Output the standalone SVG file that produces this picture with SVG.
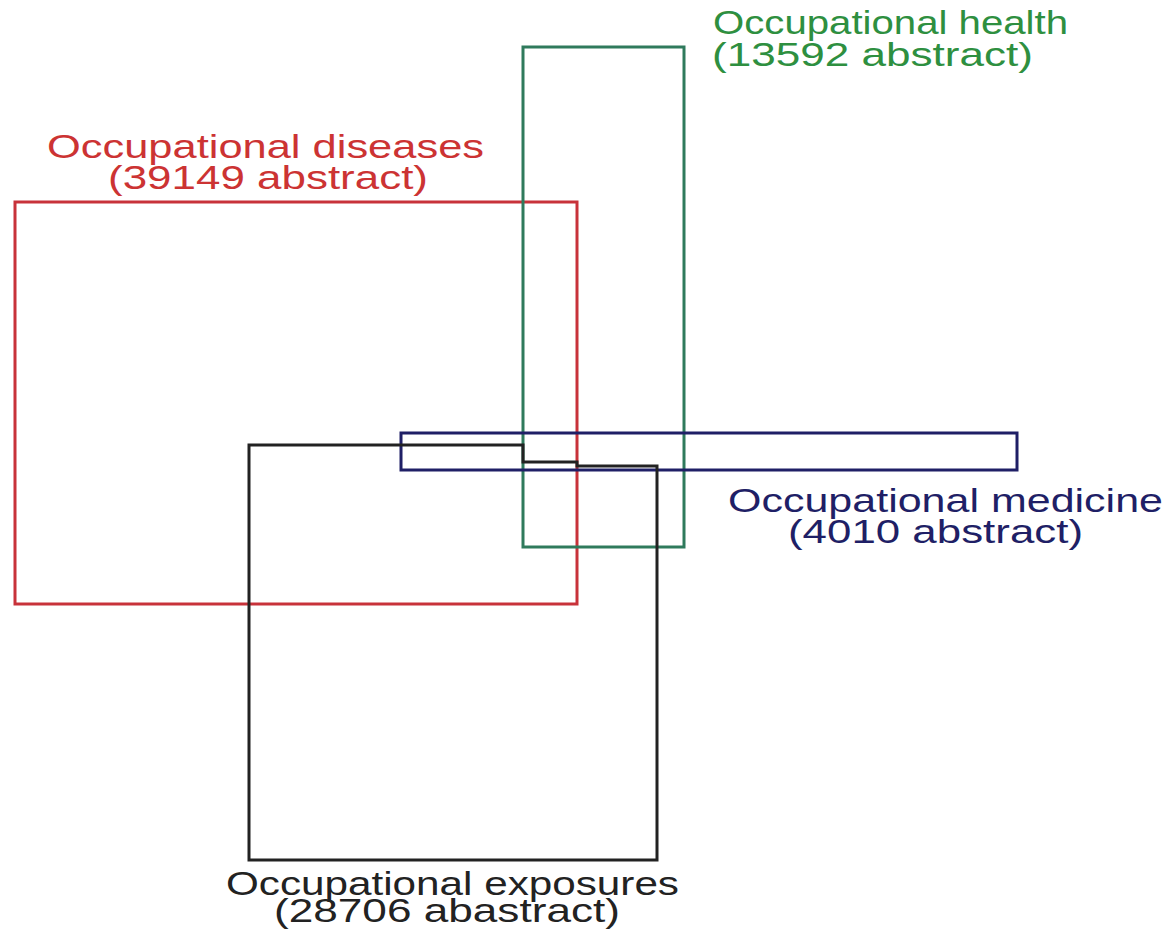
<svg xmlns="http://www.w3.org/2000/svg" width="1169" height="938" viewBox="0 0 1169 938">
<style>
text{font-family:"Liberation Sans",Arial,sans-serif;font-size:34px}
.box{fill:none;stroke-width:3}
</style>
<rect width="1169" height="938" fill="#fff"/>
<g id="diseases">
<rect class="box" x="15" y="202" width="562" height="402" stroke="#c8323a"/>
<text x="47" y="158" fill="#cc3333" textLength="437" lengthAdjust="spacingAndGlyphs">Occupational diseases</text>
<text x="108" y="189" fill="#cc3333" textLength="320" lengthAdjust="spacingAndGlyphs">(39149 abstract)</text>
</g>
<g id="health">
<rect class="box" x="523" y="47" width="161" height="500" stroke="#2f7a5c"/>
<text x="713" y="34" fill="#2e8f40" textLength="355" lengthAdjust="spacingAndGlyphs">Occupational health</text>
<text x="712" y="66" fill="#2e8f40" textLength="321" lengthAdjust="spacingAndGlyphs">(13592 abstract)</text>
</g>
<g id="medicine">
<rect class="box" x="401" y="433" width="616" height="37" stroke="#1f1f66"/>
<text x="728" y="512" fill="#1f1f66" textLength="435" lengthAdjust="spacingAndGlyphs">Occupational medicine</text>
<text x="788" y="543" fill="#1f1f66" textLength="295" lengthAdjust="spacingAndGlyphs">(4010 abstract)</text>
</g>
<g id="exposures">
<path class="box" d="M249 860 V445 H523 V462 H577 V466 H657 V860 Z" stroke="#222"/>
<text x="226" y="895" fill="#222" textLength="453" lengthAdjust="spacingAndGlyphs">Occupational exposures</text>
<text x="274" y="922" fill="#222" textLength="346" lengthAdjust="spacingAndGlyphs">(28706 abastract)</text>
</g>
<g id="connectors"></g>
</svg>
